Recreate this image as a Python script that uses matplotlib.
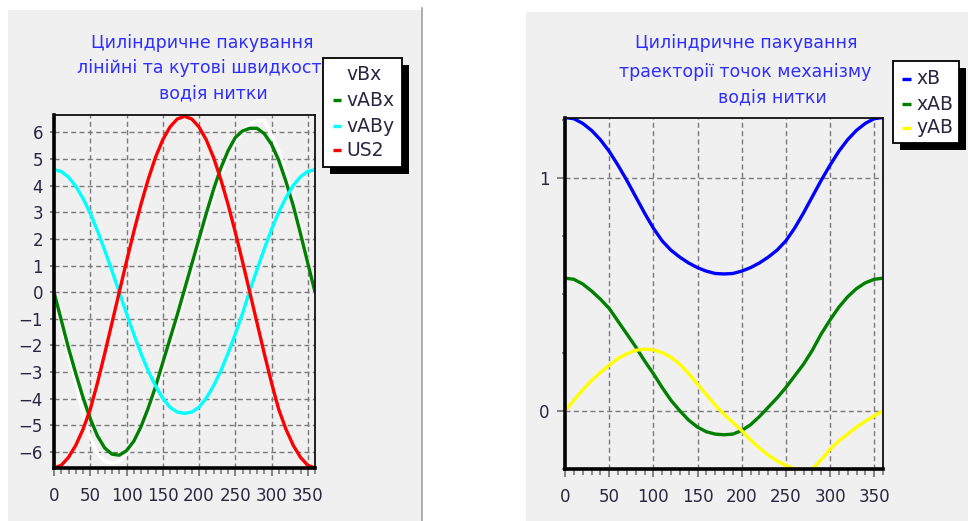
import matplotlib
matplotlib.use("Agg")
import matplotlib.pyplot as plt
from matplotlib.patches import Rectangle
from matplotlib.lines import Line2D
from matplotlib.ticker import MultipleLocator

# ---------------- data ----------------
angle = list(range(0, 361, 10))

# left chart: velocities
vBx = [0, -1.2, -2.35, -3.4, -4.55, -5.45, -6.05, -6.35, -6.42, -6.35,
       -6.1, -5.75, -5.2, -4.55, -3.8, -2.95, -2.05, -1.15, -0.2, 0.75,
       1.7, 2.65, 3.55, 4.4, 5.1, 5.65, 6.05, 6.3, 6.44, 6.45,
       5.9, 5.3, 4.5, 3.5, 2.4, 1.2, 0]
vABx = [0, -1.05, -2.1, -3.05, -3.95, -4.75, -5.4, -5.85, -6.08, -6.12,
        -5.95, -5.6, -5.05, -4.35, -3.55, -2.65, -1.75, -0.85, 0.1, 1.05,
        2.0, 2.95, 3.85, 4.65, 5.3, 5.8, 6.05, 6.15, 6.15, 5.95,
        5.55, 4.95, 4.15, 3.25, 2.2, 1.1, 0]
vABy = [4.6, 4.53, 4.32, 3.98, 3.52, 2.96, 2.3, 1.57, 0.8, 0.0,
        -0.8, -1.57, -2.3, -2.96, -3.52, -3.98, -4.32, -4.5, -4.55, -4.5,
        -4.32, -3.98, -3.52, -2.96, -2.3, -1.57, -0.8, 0.05, 0.85, 1.62,
        2.35, 3.0, 3.55, 4.0, 4.33, 4.53, 4.6]
US2 = [-6.6, -6.5, -6.2, -5.75, -5.15, -4.4, -3.4, -2.3, -1.15, 0.0,
       1.15, 2.26, 3.3, 4.24, 5.06, 5.72, 6.2, 6.5, 6.6, 6.5,
       6.2, 5.72, 5.06, 4.24, 3.3, 2.26, 1.15, 0.0, -1.15, -2.3,
       -3.4, -4.4, -5.15, -5.75, -6.2, -6.5, -6.6]

# right chart: trajectories
xB = [1.26, 1.255, 1.235, 1.205, 1.165, 1.115, 1.055, 0.99, 0.92, 0.85,
      0.785, 0.73, 0.69, 0.66, 0.635, 0.615, 0.6, 0.59, 0.588, 0.59,
      0.6, 0.615, 0.635, 0.66, 0.69, 0.73, 0.785, 0.85, 0.92, 0.99,
      1.055, 1.115, 1.165, 1.205, 1.235, 1.255, 1.26]
xAB = [0.57, 0.565, 0.545, 0.515, 0.48, 0.44, 0.385, 0.33, 0.275, 0.215,
       0.16, 0.1, 0.045, 0.0, -0.04, -0.07, -0.09, -0.1, -0.103, -0.1,
       -0.085, -0.06, -0.025, 0.015, 0.055, 0.1, 0.15, 0.2, 0.26, 0.33,
       0.39, 0.445, 0.49, 0.525, 0.55, 0.565, 0.57]
yAB = [0.0, 0.045, 0.09, 0.13, 0.165, 0.195, 0.225, 0.245, 0.26, 0.265,
       0.262, 0.25, 0.23, 0.2, 0.16, 0.115, 0.07, 0.025, -0.015, -0.05,
       -0.085, -0.125, -0.16, -0.19, -0.215, -0.235, -0.25, -0.258, -0.25, -0.21,
       -0.165, -0.13, -0.1, -0.07, -0.045, -0.022, 0.0]

left_title = ["Циліндричне пакування", "лінійні та кутові швидкості", "водія нитки"]
right_title = ["Циліндричне пакування", "траекторії точок механізму", "водія нитки"]
left_names = ["vBx", "vABx", "vABy", "US2"]
right_names = ["xB", "xAB", "yAB"]
left_colors = ["#ffffff", "#008000", "#00ffff", "#ff0000"]
right_colors = ["#0000ff", "#008000", "#ffff00"]

# ---------------- layout ----------------
W, H = 968, 521
fig = plt.figure(figsize=(W / 100, H / 100), dpi=100)
fig.patch.set_facecolor("white")
BG = "#f0f0f0"
TXT = "#2a2640"
TITLE = "#2e2eff"


def rect(x0, y0, x1, y1):
    return [x0 / W, 1 - y1 / H, (x1 - x0) / W, (y1 - y0) / H]


def fx(x):
    return x / W


def fy(y):
    return 1 - y / H


# panel backgrounds
fig.add_artist(Rectangle((fx(8), 0), (421 - 8) / W, (521 - 10) / H,
                         transform=fig.transFigure, facecolor=BG, edgecolor="none", zorder=0))
fig.add_artist(Line2D([fx(421.5), fx(421.5)], [fy(8), 0], transform=fig.transFigure,
                      color="#a0a0a0", lw=1.2, zorder=1))
fig.add_artist(Rectangle((fx(526), 0), (W - 526) / W, (521 - 12) / H,
                         transform=fig.transFigure, facecolor=BG, edgecolor="none", zorder=0))


def style_axes(ax):
    ax.set_facecolor(BG)
    for s in ["left", "bottom"]:
        ax.spines[s].set_linewidth(2.6)
        ax.spines[s].set_color("black")
    for s in ["top", "right"]:
        ax.spines[s].set_linewidth(1.3)
        ax.spines[s].set_color("#101010")
    ax.set_xlim(0, 360)
    ax.xaxis.set_major_locator(MultipleLocator(50))
    ax.xaxis.set_minor_locator(MultipleLocator(10))
    ax.grid(True, which="major", color="#7a7a7a", linestyle=(0, (3.6, 2.4)), linewidth=1.0)
    ax.tick_params(axis="both", which="major", direction="out", length=6, width=1.2,
                   color="#707070", labelsize=12, labelcolor=TXT)
    ax.tick_params(axis="x", which="major", pad=8)
    ax.tick_params(axis="x", which="minor", direction="out", length=4, width=1.1, color="#707070")
    ax.tick_params(axis="y", which="minor", direction="out", length=2, width=1.1, color="#707070")
    ax.set_axisbelow(True)


# ---------- left chart ----------
axL = fig.add_axes(rect(54, 115, 315, 468))
style_axes(axL)
for vals, c in zip([vBx, vABx, vABy, US2], left_colors):
    axL.plot(angle, vals, color=c, lw=2.4, solid_capstyle="butt")
axL.set_ylim(-6.6, 6.65)
axL.yaxis.set_major_locator(MultipleLocator(1))
axL.tick_params(axis="y", which="major", length=3, pad=5)

# ---------- right chart ----------
axR = fig.add_axes(rect(565, 118, 883, 469))
style_axes(axR)
for vals, c in zip([xB, xAB, yAB], right_colors):
    axR.plot(angle, vals, color=c, lw=2.4, solid_capstyle="butt")
axR.set_ylim(-0.25, 1.258)
axR.set_yticks([0, 1])
axR.yaxis.set_minor_locator(MultipleLocator(0.25))
axR.tick_params(axis="y", which="major", length=6, pad=5)

# ---------- titles ----------
for (txt, x, y) in zip(left_title, [202, 202, 213], [43, 68, 93]):
    fig.text(fx(x), fy(y), txt, ha="center", va="center", color=TITLE, fontsize=12.5)
for (txt, x, y) in zip(right_title, [746, 745, 772], [43, 72, 97]):
    fig.text(fx(x), fy(y), txt, ha="center", va="center", color=TITLE, fontsize=12.5)


# ---------- legends ----------
def legend(x0, y0, x1, y1, names, colors, ys, mx0, mx1, tx):
    off = 7
    fig.add_artist(Rectangle((fx(x0 + off), fy(y1 + off)), (x1 - x0) / W, (y1 - y0) / H,
                             transform=fig.transFigure, facecolor="black", edgecolor="black",
                             lw=0, zorder=5))
    fig.add_artist(Rectangle((fx(x0), fy(y1)), (x1 - x0) / W, (y1 - y0) / H,
                             transform=fig.transFigure, facecolor="white", edgecolor="black",
                             lw=1.3, zorder=6))
    for name, c, y in zip(names, colors, ys):
        fig.add_artist(Line2D([fx(mx0), fx(mx1)], [fy(y), fy(y)], transform=fig.transFigure,
                              color=c, lw=2.4, solid_capstyle="butt", zorder=7))
        fig.text(fx(tx), fy(y), name, ha="left", va="center", color=TXT, fontsize=13.5, zorder=7)


legend(323, 58, 402, 167, left_names, left_colors, [75, 100, 126, 150], 333, 341, 346)
legend(893, 61, 959, 143, right_names, right_colors, [79, 104, 128], 902, 911, 916)

fig.savefig("out.png", dpi=100)
